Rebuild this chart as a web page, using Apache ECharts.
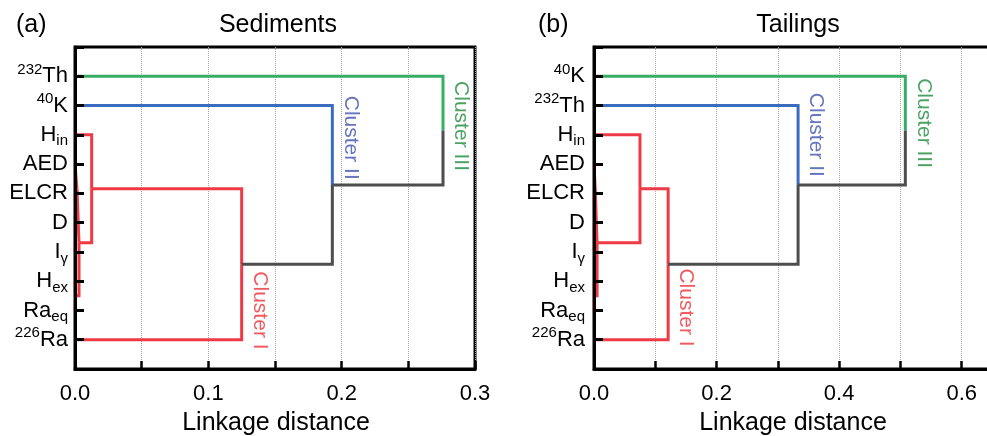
<!DOCTYPE html>
<html>
<head>
<meta charset="utf-8">
<script src="https://cdn.jsdelivr.net/npm/echarts@6/dist/echarts.min.js"></script>
<style>
  html, body { margin: 0; padding: 0; background: #fff; }
  #chart { width: 987px; height: 436px; }
</style>
</head>
<body>
<div id="chart"></div>
<script>
// leaves listed top to bottom, rich-text keys give the super/subscripts
const leavesA = ['{sup|232}{n|Th}', '{sup|40}{n|K}', '{n|H}{sub|in}', '{n|AED}', '{n|ELCR}', '{n|D}', '{n|I}{sub|γ}', '{n|H}{sub|ex}', '{n|Ra}{sub|eq}', '{sup|226}{n|Ra}'];
const leavesB = ['{sup|40}{n|K}', '{sup|232}{n|Th}', '{n|H}{sub|in}', '{n|AED}', '{n|ELCR}', '{n|D}', '{n|I}{sub|γ}', '{n|H}{sub|ex}', '{n|Ra}{sub|eq}', '{sup|226}{n|Ra}'];

// cluster of each leaf (1 = I, 2 = II, 3 = III)
const clusterA = [3, 2, 1, 1, 1, 1, 1, 1, 1, 1];
const clusterB = [3, 2, 1, 1, 1, 1, 1, 1, 1, 1];
const clusterNames = ['Cluster I', 'Cluster II', 'Cluster III'];

// linkage rows [child a, child b, distance]; merged nodes are numbered from 10
const linkA = [[5, 6, 0.0004], [7, 8, 0.0003], [4, 10, 0.0008], [3, 12, 0.0015], [13, 11, 0.003],
  [2, 14, 0.0125], [15, 9, 0.125], [1, 16, 0.193], [0, 17, 0.276]];
const linkB = [[5, 6, 0.0005], [7, 8, 0.0004], [4, 10, 0.001], [3, 12, 0.002], [13, 11, 0.005],
  [2, 14, 0.075], [15, 9, 0.121], [1, 16, 0.333], [0, 17, 0.508]];

const lineColors = ['#ee3a44', '#3a6cc0', '#38ad66'];
const textColors = ['#ee2f36', '#3f51ab', '#1e8c3c'];
const gray = '#4d4d4d';
const font = 'Liberation Sans, Arial, sans-serif';

function treeSeries(leaves, clusters, links, gi, tagY) {
  const n = leaves.length;
  const pos = [];
  const members = [];
  for (let i = 0; i < n; i++) {
    pos.push([0, i + 1]);
    members.push([clusters[i]]);
  }
  links.forEach((l, k) => {
    pos[n + k] = [l[2], (pos[l[0]][1] + pos[l[1]][1]) / 2];
    members[n + k] = members[l[0]].concat(members[l[1]]);
  });
  const out = [];
  links.forEach((l, k) => {
    const p = pos[n + k];
    const same = new Set(members[n + k]).size === 1;
    [l[0], l[1]].forEach((c) => {
      let col = gray;
      if (c < n) col = lineColors[clusters[c] - 1];
      else if (same) col = lineColors[members[n + k][0] - 1];
      out.push({
        type: 'line',
        xAxisIndex: gi,
        yAxisIndex: gi,
        data: [[pos[c][0], pos[c][1]], [p[0], pos[c][1]], [p[0], p[1]]],
        symbol: 'none',
        silent: true,
        lineStyle: { color: col, width: 3, join: 'miter', cap: 'butt' },
      });
    });
  });
  // each tag sits beside the first link that holds the whole cluster
  const tagData = [];
  for (let c = 1; c <= 3; c++) {
    const total = clusters.filter((v) => v === c).length;
    const k = links.findIndex((l, i) => members[n + i].filter((v) => v === c).length === total);
    tagData.push({
      value: [links[k][2], tagY[c - 1]],
      label: { color: textColors[c - 1], formatter: clusterNames[c - 1] },
    });
  }
  out.push({
    type: 'scatter',
    xAxisIndex: gi,
    yAxisIndex: gi,
    symbolSize: 1,
    silent: true,
    itemStyle: { color: 'rgba(0,0,0,0)' },
    label: {
      show: true,
      position: 'inside',
      rotate: -90,
      offset: [0, -18],
      fontSize: 21,
      fontFamily: font,
    },
    data: tagData,
    z: 3,
  });
  return out;
}

function yAxisFor(leaves, gi, margin) {
  return {
    type: 'value',
    gridIndex: gi,
    min: 0,
    max: 11,
    interval: 1,
    inverse: true,
    z: 5,
    axisLine: { show: true, onZero: false, lineStyle: { color: '#000', width: 3 } },
    axisTick: { show: true, inside: true, length: 9, lineStyle: { color: '#000', width: 3 } },
    splitLine: { show: false },
    axisLabel: {
      margin: margin,
      formatter: (v) => (v >= 1 && v <= leaves.length ? leaves[v - 1] : ''),
      rich: {
        n: { fontSize: 22, lineHeight: 28, color: '#000', fontFamily: font },
        sup: { fontSize: 15, verticalAlign: 'top', color: '#000', fontFamily: font },
        sub: { fontSize: 15, verticalAlign: 'bottom', color: '#000', fontFamily: font },
      },
    },
  };
}

function xAxisFor(gi, max, interval, labelStep) {
  return {
    type: 'value',
    gridIndex: gi,
    position: 'bottom',
    min: 0,
    max: max,
    interval: interval,
    axisLine: { show: true, onZero: false, lineStyle: { color: '#000', width: 3 } },
    axisTick: { show: true, inside: true, length: 8, lineStyle: { color: '#000', width: 2.5 } },
    splitLine: { show: true, lineStyle: { color: '#a8a8a8', type: 'dotted', width: 1 } },
    axisLabel: {
      margin: 14,
      fontSize: 22,
      color: '#000',
      fontFamily: font,
      formatter: (v) => (Math.round(v / interval) % labelStep === 0 ? v.toFixed(1) : ''),
    },
  };
}

const chart = echarts.init(document.getElementById('chart'));
chart.setOption({
  backgroundColor: '#fff',
  animation: false,
  grid: [
    { left: 75, top: 47, width: 400, height: 322, show: true, borderColor: '#000', borderWidth: 3, outerBoundsMode: 'none' },
    { left: 594, top: 47, width: 429, height: 322, show: true, borderColor: '#000', borderWidth: 3, outerBoundsMode: 'none' },
  ],
  xAxis: [xAxisFor(0, 0.3, 0.05, 2), xAxisFor(1, 0.7, 0.1, 2)],
  yAxis: [yAxisFor(leavesA, 0, 7), yAxisFor(leavesB, 1, 9)],
  series: [
    ...treeSeries(leavesA, clusterA, linkA, 0, [9.0, 3.1, 2.7]),
    ...treeSeries(leavesB, clusterB, linkB, 1, [8.9, 3.0, 2.6]),
  ],
  graphic: [
    { type: 'text', style: { text: '(a)', x: 16, y: 25, fontSize: 25, fontFamily: font, fill: '#000', verticalAlign: 'middle' } },
    { type: 'text', style: { text: '(b)', x: 538, y: 25, fontSize: 25, fontFamily: font, fill: '#000', verticalAlign: 'middle' } },
    { type: 'text', style: { text: 'Sediments', x: 278, y: 25, fontSize: 25, fontFamily: font, fill: '#000', align: 'center', verticalAlign: 'middle' } },
    { type: 'text', style: { text: 'Tailings', x: 798, y: 25, fontSize: 25, fontFamily: font, fill: '#000', align: 'center', verticalAlign: 'middle' } },
    { type: 'text', style: { text: 'Linkage distance', x: 276, y: 423, fontSize: 25, fontFamily: font, fill: '#000', align: 'center', verticalAlign: 'middle' } },
    { type: 'text', style: { text: 'Linkage distance', x: 793, y: 423, fontSize: 25, fontFamily: font, fill: '#000', align: 'center', verticalAlign: 'middle' } },
  ],
});
</script>
</body>
</html>
